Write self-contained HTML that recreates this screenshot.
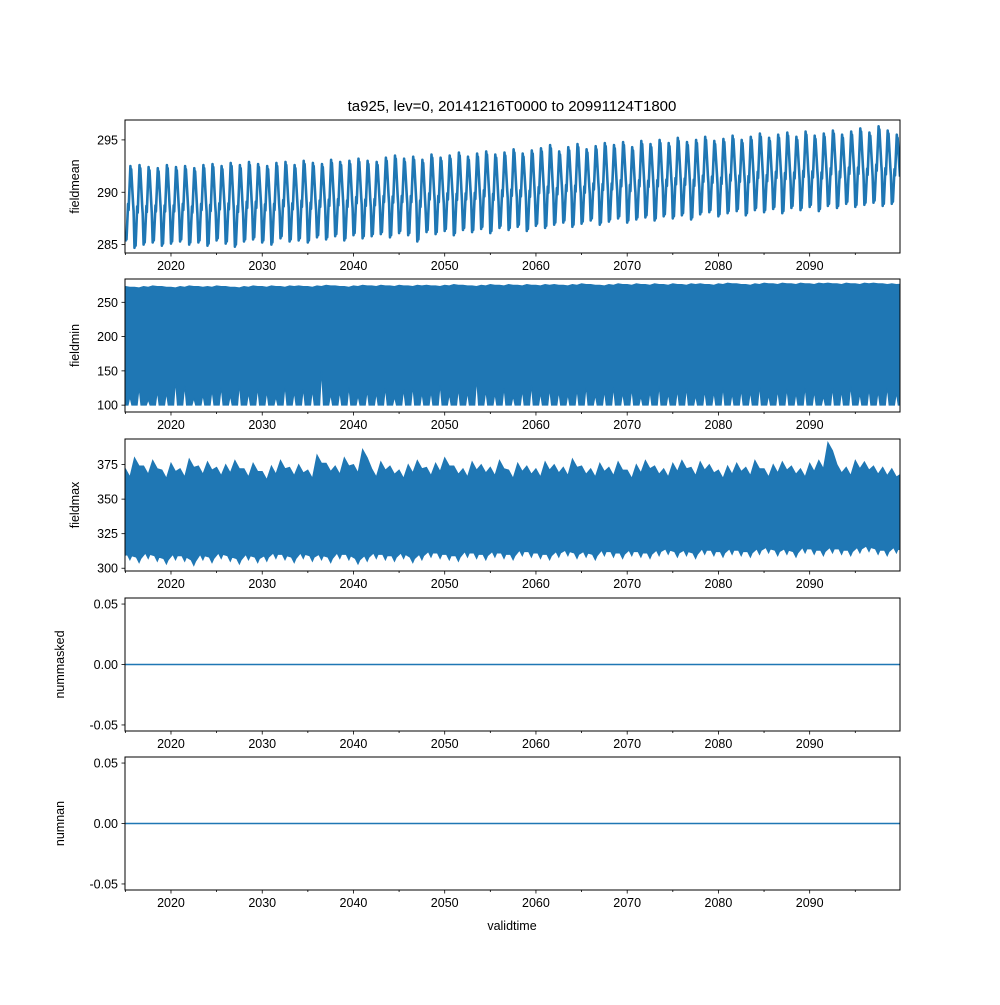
<!DOCTYPE html>
<html><head><meta charset="utf-8"><style>
body{margin:0;background:#fff;}
svg text{font-family:"Liberation Sans","DejaVu Sans",sans-serif;font-size:12.5px;fill:#000;}
</style></head><body>
<svg id="c" width="1000" height="1000" xmlns="http://www.w3.org/2000/svg"></svg>
<script>
// per-year data 2015..2099
const years = Array.from({length:85},(_, i)=>2015+i);
const meanMax = [292.5,292.6,292.4,292.3,292.6,292.4,292.5,292.3,292.6,292.7,292.5,292.8,292.6,292.9,292.7,292.5,292.8,292.9,292.6,293.0,292.8,292.7,293.1,292.9,293.0,293.2,293.0,292.9,293.3,293.5,293.2,293.4,293.1,293.6,293.3,293.5,293.8,293.4,293.7,293.9,293.6,293.8,294.1,293.7,294.0,294.2,294.5,293.9,294.3,294.6,294.1,294.4,294.7,294.5,294.8,294.3,294.9,294.6,295.0,294.7,295.2,294.8,295.0,295.3,294.9,295.1,295.4,295.0,295.3,295.6,295.2,295.5,295.7,295.3,295.8,295.4,295.6,295.9,295.5,295.8,296.1,295.7,296.3,295.9,295.5];
const meanMin = [285.3,284.7,285.0,285.2,284.9,285.1,285.3,285.0,285.2,284.9,285.4,285.1,284.8,285.3,285.5,285.2,285.0,285.6,285.3,285.4,285.2,285.7,285.5,285.8,285.4,285.9,285.6,285.8,286.0,285.7,286.1,285.9,285.3,286.2,286.0,286.3,285.9,286.4,286.2,286.5,286.1,286.6,286.4,286.7,286.3,286.8,286.6,286.9,287.1,286.7,287.0,287.3,286.9,287.2,287.5,287.1,287.4,287.6,287.3,287.7,287.5,287.8,287.4,287.9,288.1,287.7,288.0,288.2,287.8,288.3,288.1,288.4,288.0,288.5,288.3,288.6,288.2,288.7,288.5,288.9,288.6,288.8,289.0,288.7,288.9];
const minTop = [273,272,273,274,273,272,273,274,273,273,274,273,272,273,274,273,274,273,274,274,273,274,275,274,273,274,275,274,275,274,275,274,275,275,274,275,276,275,274,275,276,275,276,275,276,275,276,276,275,276,277,276,275,276,277,276,277,276,277,276,277,276,277,277,276,277,278,277,276,277,278,277,278,277,278,277,278,278,277,278,277,278,278,277,277];
const minBot = [112,125,108,120,118,135,128,110,115,122,126,114,130,118,125,120,112,128,119,124,122,150,116,120,126,114,121,118,125,112,123,127,118,120,130,116,124,119,138,121,117,125,113,122,129,118,124,120,116,123,127,115,121,126,118,124,113,120,128,117,122,125,114,121,119,126,117,123,120,128,115,122,124,118,126,120,113,125,121,128,117,124,120,126,118];
const maxTop = [372,380,374,378,371,376,372,379,374,377,373,375,378,372,376,370,374,378,373,375,371,382,376,374,380,375,386,372,377,374,371,375,378,373,376,380,374,372,377,375,373,378,371,376,374,372,377,375,373,379,374,372,376,373,377,371,375,378,374,372,376,378,373,377,375,371,374,376,373,378,372,375,377,374,372,376,378,391,375,373,378,377,374,373,372];
const maxBot = [306,304,307,305,303,306,305,302,306,304,307,305,303,306,304,305,307,306,304,307,305,306,304,307,306,303,305,307,306,305,307,304,306,308,307,306,305,308,307,306,308,307,306,309,308,307,306,308,309,307,308,306,309,308,307,309,308,307,309,310,308,309,307,310,309,308,310,309,308,310,311,309,310,308,311,310,309,311,310,309,311,312,310,309,311];
const xTicks = [2020,2030,2040,2050,2060,2070,2080,2090];
const panels = [
 {name:"fieldmean",top:120,bot:253,ymin:284.2,ymax:296.9,ticks:[285,290,295],fmt:v=>String(v)},
 {name:"fieldmin",top:279,bot:412,ymin:90,ymax:284,ticks:[100,150,200,250],fmt:v=>String(v)},
 {name:"fieldmax",top:439,bot:571,ymin:298,ymax:393.5,ticks:[300,325,350,375],fmt:v=>String(v)},
 {name:"nummasked",top:598,bot:731,ymin:-0.055,ymax:0.055,ticks:[-0.05,0,0.05],fmt:v=>v.toFixed(2)},
 {name:"numnan",top:757,bot:890,ymin:-0.055,ymax:0.055,ticks:[-0.05,0,0.05],fmt:v=>v.toFixed(2)}
];
const X0=125,X1=900,T0=2014.96,T1=2099.9;
const sx=t=>X0+(t-T0)/(T1-T0)*(X1-X0);
const svg=document.getElementById('c');
const NS="http://www.w3.org/2000/svg";
function mk(tag,attrs,parent){const e=document.createElementNS(NS,tag);for(const k in attrs)e.setAttribute(k,attrs[k]);(parent||svg).appendChild(e);return e;}
const C="#1f77b4";
panels.forEach((p,pi)=>{
 const g=mk('g',{});
 
 
 const sy=v=>p.bot-(v-p.ymin)/(p.ymax-p.ymin)*(p.bot-p.top);
 const cid='cl'+pi;
 const cp=mk('clipPath',{id:cid},g);mk('rect',{x:X0,y:p.top,width:X1-X0,height:p.bot-p.top},cp);
 const dg=mk('g',{'clip-path':'url(#'+cid+')'},g);
 if(pi===0){
  let d='';
  years.forEach((y,i)=>{
   const mid=(meanMin[i]+meanMax[i])/2;
   const pts=[[y,meanMin[i]],[y+0.08,meanMin[i]+0.8],[y+0.12,meanMin[i]+0.2],[y+0.3,mid],[y+0.35,mid-0.6],[y+0.55,meanMax[i]],[y+0.6,meanMax[i]-0.8],[y+0.64,meanMax[i]-0.3],[y+0.85,mid],[y+0.9,mid-0.7]];
   pts.forEach(q=>{d+=(d?'L':'M')+sx(q[0]).toFixed(1)+','+sy(q[1]).toFixed(1);});
  });
  const l=mk('path',{d:d,fill:'none',stroke:C,'stroke-width':2.6,'stroke-linejoin':'round'},dg);
  
  
 } else if(pi===1||pi===2){
  const top=pi===1?minTop:maxTop, bot=pi===1?minBot:maxBot;
  let d='M'+sx(T0-1)+','+sy(top[0]);
  years.forEach((y,i)=>{d+='L'+sx(y).toFixed(1)+','+sy(top[i]).toFixed(1)+'L'+sx(y+0.5).toFixed(1)+','+sy(pi===2?top[i]-6:top[i]-1).toFixed(1);});
  d+='L'+sx(T1+1)+','+sy(top[84]);
  d+='L'+sx(T1+1)+','+sy(pi===1?100:bot[84]);
  for(let i=84;i>=0;i--){
   const y=years[i];
   if(pi===1){d+='L'+sx(y+0.7).toFixed(1)+','+sy(100).toFixed(1)+'L'+sx(y+0.5).toFixed(1)+','+sy(bot[i]).toFixed(1)+'L'+sx(y+0.3).toFixed(1)+','+sy(100).toFixed(1);}
   else{d+='L'+sx(y+0.7).toFixed(1)+','+sy(bot[i]+3).toFixed(1)+'L'+sx(y+0.5).toFixed(1)+','+sy(bot[i]).toFixed(1)+'L'+sx(y+0.2).toFixed(1)+','+sy(bot[i]+4).toFixed(1);}
  }
  d+='L'+sx(T0-1)+','+sy(pi===1?100:bot[0])+'Z';
  const b=mk('path',{d:d,fill:C,stroke:C,'stroke-width':1},dg);
  
  
 } else {
  const l=mk('line',{x1:X0,x2:X1,y1:sy(0),y2:sy(0),stroke:C,'stroke-width':1.5},dg);
  
  
 }
 const fr=mk('rect',{x:X0,y:p.top,width:X1-X0,height:p.bot-p.top,fill:'none',stroke:'#000','stroke-width':1},g);
 
 
 p.ticks.forEach(v=>{
  const y=sy(v);
  mk('line',{x1:X0-3.5,x2:X0,y1:y,y2:y,stroke:'#000','stroke-width':0.8},g);
  const t=mk('text',{x:X0-7,y:y+4.5,'text-anchor':'end'},g);t.textContent=p.fmt(v);
  
  
 });
 for(let yr=2015;yr<=2099;yr+=5){
  const x=sx(yr);const major=yr%10===0;
  mk('line',{x1:x,x2:x,y1:p.bot,y2:p.bot+(major?3.5:2),stroke:'#000','stroke-width':0.8},g);
 }
 xTicks.forEach(yr=>{
  const t=mk('text',{x:sx(yr),y:p.bot+17,'text-anchor':'middle'},g);t.textContent=yr;
  
  
 });
 const yl=mk('text',{x:0,y:0,'text-anchor':'middle',transform:'translate('+(pi>=3?64:79)+','+((p.top+p.bot)/2)+') rotate(-90)'},g);
 yl.textContent=p.name;
 
 
});
const title=mk('text',{x:512,y:111,'text-anchor':'middle',style:'font-size:15px'});
title.textContent='ta925, lev=0, 20141216T0000 to 20991124T1800';


const xl=mk('text',{x:512,y:930,'text-anchor':'middle'});
xl.textContent='validtime';


</script>
</body></html>
